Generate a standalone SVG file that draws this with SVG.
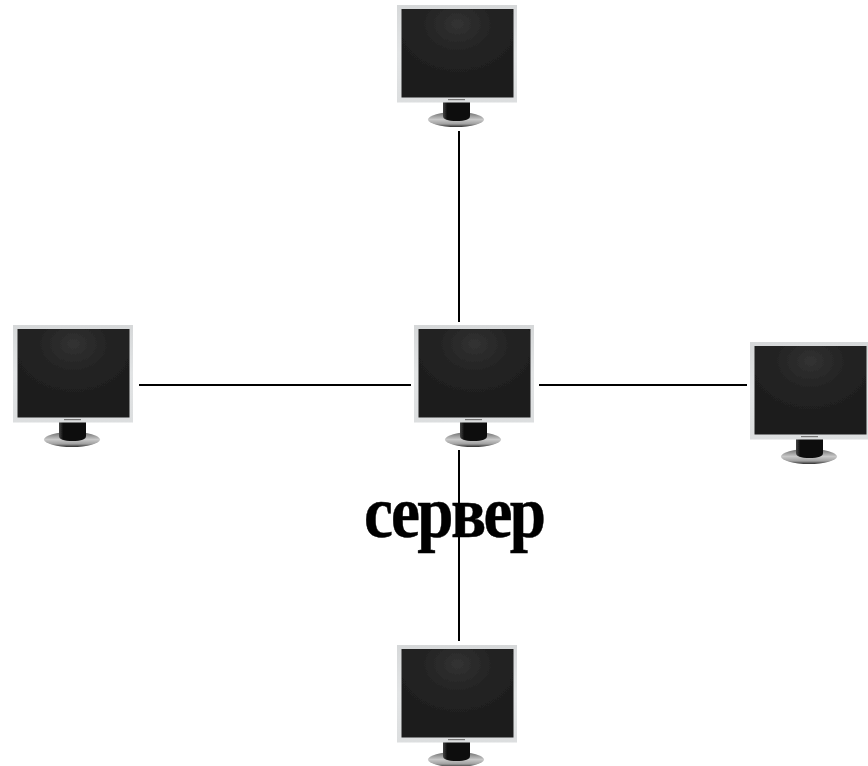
<svg xmlns="http://www.w3.org/2000/svg" width="868" height="766" viewBox="0 0 868 766">
<style>
.link{stroke:#000;stroke-width:2;fill:none}
.label{font-family:"Liberation Serif","DejaVu Serif",serif;font-weight:bold;font-size:74px;letter-spacing:-3px;fill:#000;stroke:#000;stroke-width:0.5}
</style>
<defs>
<radialGradient id="glow" cx="0.5" cy="0.17" r="0.6">
<stop offset="0" stop-color="#323232"/><stop offset="0.5" stop-color="#242424"/><stop offset="1" stop-color="#1e1e1e"/>
</radialGradient>
<linearGradient id="bez" x1="0" y1="0" x2="0" y2="1">
<stop offset="0" stop-color="#d6d8d9"/><stop offset="0.5" stop-color="#e2e4e5"/><stop offset="1" stop-color="#dcdedf"/>
</linearGradient>
<linearGradient id="base" x1="0" y1="0" x2="0" y2="1">
<stop offset="0" stop-color="#6a6a6a"/><stop offset="0.5" stop-color="#c8c8c8"/><stop offset="0.8" stop-color="#a0a0a0"/><stop offset="1" stop-color="#2c2c2c"/>
</linearGradient>
<linearGradient id="neck" x1="0" y1="0" x2="1" y2="0">
<stop offset="0" stop-color="#444"/><stop offset="0.15" stop-color="#111"/><stop offset="1" stop-color="#0c0c0c"/>
</linearGradient>
<filter id="soft" x="-5%" y="-5%" width="110%" height="110%"><feGaussianBlur stdDeviation="0.7"/></filter>
<g id="monitor" filter="url(#soft)">
<ellipse cx="59" cy="114.500" rx="28" ry="7.500" fill="url(#base)"/>
<path d="M46 96H73V111Q73 116 59.500 116Q46 116 46 111Z" fill="url(#neck)"/>
<rect x="0" y="0" width="120" height="97.500" fill="url(#bez)"/>
<rect x="4.500" y="4" width="112" height="88.500" fill="url(#glow)"/>
<rect x="51" y="94" width="17" height="1.200" fill="#777"/>
</g>
</defs>
<g id="connectors">
<line class="link" x1="459" y1="131" x2="459" y2="322"/>
<line class="link" x1="139" y1="385" x2="411" y2="385"/>
<line class="link" x1="539" y1="385" x2="747" y2="385"/>
<line class="link" x1="459" y1="450" x2="459" y2="641"/>
</g>
<g id="node-top"><use href="#monitor" x="397" y="5"/></g>
<g id="node-left"><use href="#monitor" x="13" y="325"/></g>
<g id="node-server"><use href="#monitor" x="414" y="325"/></g>
<g id="node-right"><use href="#monitor" x="750" y="342"/></g>
<g id="node-bottom"><use href="#monitor" x="397" y="645"/></g>
<text class="label" transform="translate(364 537) scale(0.88 1)">сервер</text>
</svg>
